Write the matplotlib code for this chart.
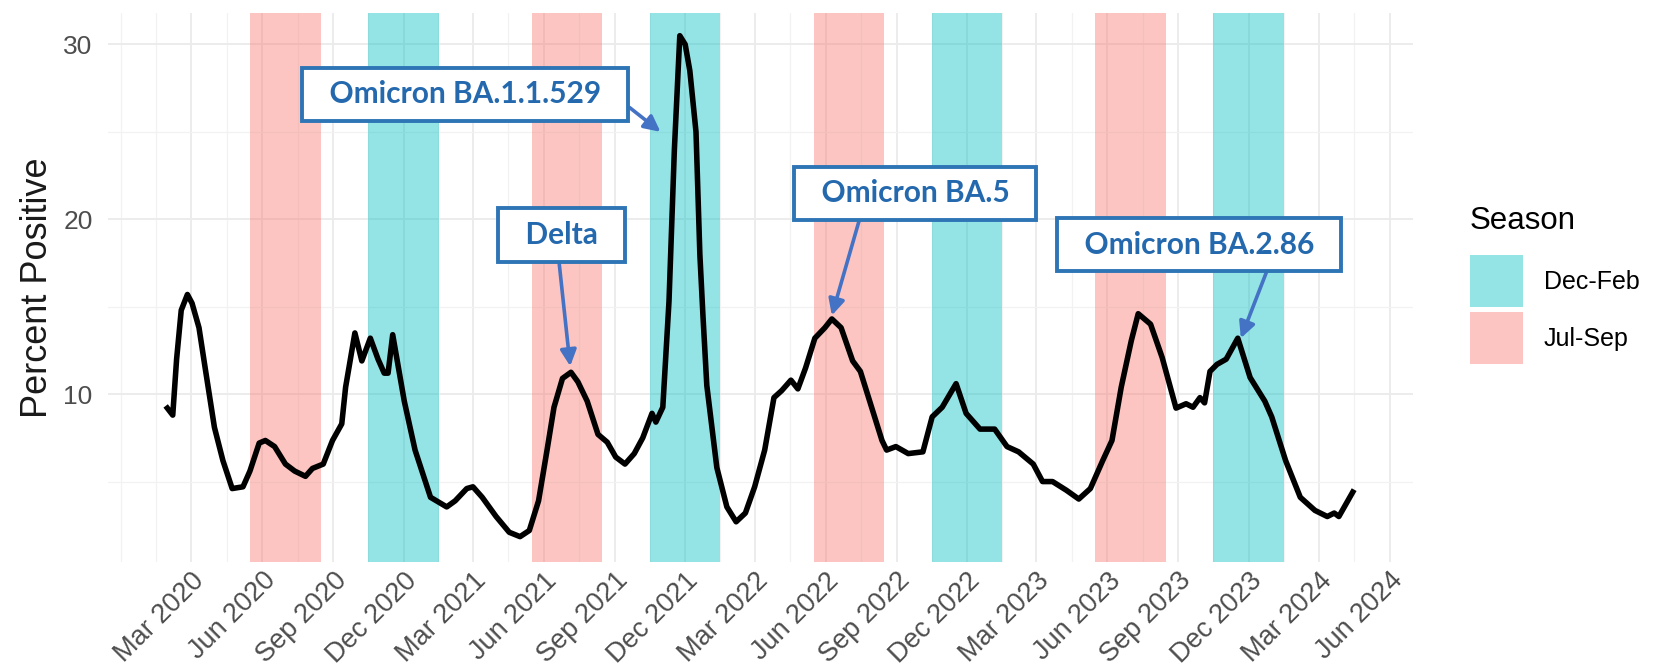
import pandas as pd
import matplotlib
matplotlib.use("Agg")
import matplotlib.pyplot as plt
from matplotlib.patches import Patch

plt.rcParams['font.family'] = ['Liberation Sans', 'DejaVu Sans']

# weekly percent positive
dates = [
    "2020-01-30", "2020-02-06", "2020-02-11", "2020-02-17", "2020-02-25", "2020-03-02",
    "2020-03-11", "2020-03-19", "2020-03-31", "2020-04-11", "2020-04-23", "2020-05-07",
    "2020-05-16", "2020-05-28", "2020-06-05", "2020-06-17", "2020-07-01", "2020-07-13",
    "2020-07-27", "2020-08-05", "2020-08-19", "2020-08-31", "2020-09-12", "2020-09-17",
    "2020-09-29", "2020-10-08", "2020-10-19", "2020-10-29", "2020-11-06", "2020-11-11",
    "2020-11-17", "2020-12-02", "2020-12-16", "2021-01-05", "2021-01-26", "2021-02-06",
    "2021-02-21", "2021-03-01", "2021-03-13", "2021-03-31", "2021-04-17", "2021-05-01",
    "2021-05-13", "2021-05-25", "2021-06-05", "2021-06-14", "2021-06-25", "2021-07-06",
    "2021-07-15", "2021-07-27", "2021-08-10", "2021-08-22", "2021-09-02", "2021-09-14",
    "2021-09-26", "2021-10-07", "2021-10-19", "2021-10-24", "2021-11-02", "2021-11-10",
    "2021-11-17", "2021-11-24", "2021-12-01", "2021-12-07", "2021-12-15", "2021-12-20",
    "2021-12-24", "2021-12-29", "2022-01-11", "2022-01-24", "2022-02-05", "2022-02-17",
    "2022-03-01", "2022-03-14", "2022-03-26", "2022-04-05", "2022-04-17", "2022-04-26",
    "2022-05-06", "2022-05-18", "2022-05-31", "2022-06-09", "2022-06-21", "2022-07-06",
    "2022-07-16", "2022-07-28", "2022-08-13", "2022-08-19", "2022-08-31", "2022-09-16",
    "2022-10-05", "2022-10-17", "2022-10-30", "2022-11-17", "2022-11-30", "2022-12-18",
    "2023-01-06", "2023-01-22", "2023-02-06", "2023-02-25", "2023-03-09", "2023-03-22",
    "2023-04-09", "2023-04-25", "2023-05-10", "2023-05-26", "2023-06-07", "2023-06-19",
    "2023-07-02", "2023-07-11", "2023-07-27", "2023-08-11", "2023-08-29", "2023-09-11",
    "2023-09-20", "2023-09-29", "2023-10-05", "2023-10-12", "2023-10-21", "2023-11-02",
    "2023-11-17", "2023-12-03", "2023-12-22", "2023-12-31", "2024-01-18", "2024-02-06",
    "2024-02-25", "2024-03-12", "2024-03-21", "2024-03-27", "2024-04-14",
]
pct_positive = [
    9.2, 8.8, 12.0, 14.8, 15.7, 15.2,
    13.8, 11.5, 8.1, 6.2, 4.6, 4.7,
    5.6, 7.2, 7.35, 7.0, 6.0, 5.6,
    5.3, 5.75, 6.0, 7.35, 8.3, 10.4,
    13.5, 11.9, 13.2, 12.0, 11.2, 11.2,
    13.4, 9.6, 6.8, 4.1, 3.55, 3.9,
    4.6, 4.7, 4.1, 3.0, 2.1, 1.85,
    2.2, 3.9, 6.8, 9.25, 10.9, 11.25,
    10.7, 9.6, 7.7, 7.25, 6.4, 6.0,
    6.6, 7.5, 8.9, 8.4, 9.25, 15.3,
    24.0, 30.5, 30.0, 28.5, 25.0, 18.0,
    14.5, 10.5, 5.8, 3.55, 2.7, 3.2,
    4.7, 6.8, 9.8, 10.2, 10.8, 10.3,
    11.5, 13.2, 13.8, 14.3, 13.8, 11.9,
    11.3, 9.6, 7.35, 6.8, 7.0, 6.6,
    6.7, 8.7, 9.25, 10.6, 8.9, 8.0,
    8.0, 7.0, 6.7, 6.0, 5.0, 5.0,
    4.5, 4.0, 4.6, 6.2, 7.35, 10.4,
    13.05, 14.6, 14.0, 12.1, 9.2, 9.45,
    9.25, 9.8, 9.5, 11.3, 11.7, 12.0,
    13.2, 10.95, 9.6, 8.7, 6.2, 4.1,
    3.35, 3.0, 3.2, 3.0, 4.4,
]

# seasons (bars centred on the season start, like geom_col)
season_labels = ["Dec-Feb", "Jul-Sep"]
season_colors = ["#00BFC4", "#F8766D"]
dec_feb_starts = ["2020-12-01", "2021-12-01", "2022-12-01", "2023-12-01"]
jul_sep_starts = ["2020-07-01", "2021-07-01", "2022-07-01", "2023-07-01"]
band_days = 91

# variant call-outs: label, arrow tip (date, value)
variant_labels = ["Omicron BA.1.1.529", "Delta", "Omicron BA.5", "Omicron BA.2.86"]
variant_dates = ["2021-10-30", "2021-07-05", "2022-06-09", "2023-11-21"]
variant_values = [25.0, 11.6, 14.5, 13.2]

# where the boxes sit and where the arrow leaves the box
box_dates = ["2021-02-19", "2021-06-24", "2022-09-25", "2023-09-28"]
box_values = [27.15, 19.1, 21.5, 18.55]
arrow_relpos = [(1.0, 0.42), (0.46, 0.0), (0.26, 0.0), (0.78, 0.0)]

x = pd.to_datetime(dates)

fig = plt.figure(figsize=(16.68, 6.65), dpi=100)
ax = fig.add_axes([0.0647, 0.1549, 0.7824, 0.8256])

half = pd.Timedelta(days=band_days / 2)
for starts, col in zip([dec_feb_starts, jul_sep_starts], season_colors):
    for s in pd.to_datetime(starts):
        ax.axvspan(s - half, s + half, color=col, alpha=0.42, lw=0, zorder=1)

ax.plot(x, pct_positive, color='black', lw=4.0, zorder=3, solid_joinstyle='round')

for lab, d, v, bd, bv, rp in zip(variant_labels, variant_dates, variant_values,
                                 box_dates, box_values, arrow_relpos):
    ax.annotate("  " + lab + "  ", xy=(pd.Timestamp(d), v),
                xytext=(pd.Timestamp(bd), bv),
                ha='center', va='center', fontsize=21.5, fontweight='bold',
                family=['Lato', 'DejaVu Sans'], color='#2469AE', zorder=5,
                bbox=dict(boxstyle='square,pad=0.42', fc='white', ec='#2E75B6', lw=2.8),
                arrowprops=dict(arrowstyle='-|>', color='#4472C4', lw=2.6,
                                mutation_scale=24, relpos=rp, shrinkA=0, shrinkB=0))

# axes
major = pd.date_range("2020-03-01", "2024-06-01", freq="3MS")
grid_base = pd.date_range("2019-12-01", "2024-06-01", freq="3MS")
minor = list(grid_base[:-1] + (grid_base[1:] - grid_base[:-1]) / 2) + [grid_base[0]]
ax.set_xticks(major)
ax.set_xticks(minor, minor=True)
ax.set_xticklabels([d.strftime("%b %Y") for d in major], rotation=45, ha='right',
                   rotation_mode='anchor', fontsize=19.5, color='#4D4D4D')
ax.set_xlim(pd.Timestamp("2019-11-14"), pd.Timestamp("2024-07-01"))

ax.set_yticks([10, 20, 30])
ax.set_yticks([5, 15, 25], minor=True)
ax.set_ylim(0.4, 31.8)
ax.tick_params(axis='y', labelsize=19, labelcolor='#4D4D4D', pad=11)
ax.tick_params(axis='x', pad=4)
ax.tick_params(which='both', length=0)
ax.set_ylabel("Percent Positive", fontsize=26, color='#1A1A1A')
ax.yaxis.set_label_coords(-0.0405, 0.5)

ax.grid(which='major', color='#EBEBEB', lw=1.3)
ax.grid(which='minor', color='#F2F2F2', lw=0.9)
ax.set_axisbelow(True)
for sp in ax.spines.values():
    sp.set_visible(False)

handles = [Patch(facecolor=c, alpha=0.42, lw=0) for c in season_colors]
leg = fig.legend(handles, season_labels, title="Season", loc='upper left',
                 bbox_to_anchor=(1460 / 1668, 1 - 196 / 665), borderaxespad=0,
                 frameon=False, fontsize=18, title_fontsize=22.5,
                 handlelength=2.1, handleheight=2.82, labelspacing=0.2,
                 handletextpad=0.85, alignment='left')
leg._legend_box.sep = 14

fig.savefig("out.png", dpi=100)
